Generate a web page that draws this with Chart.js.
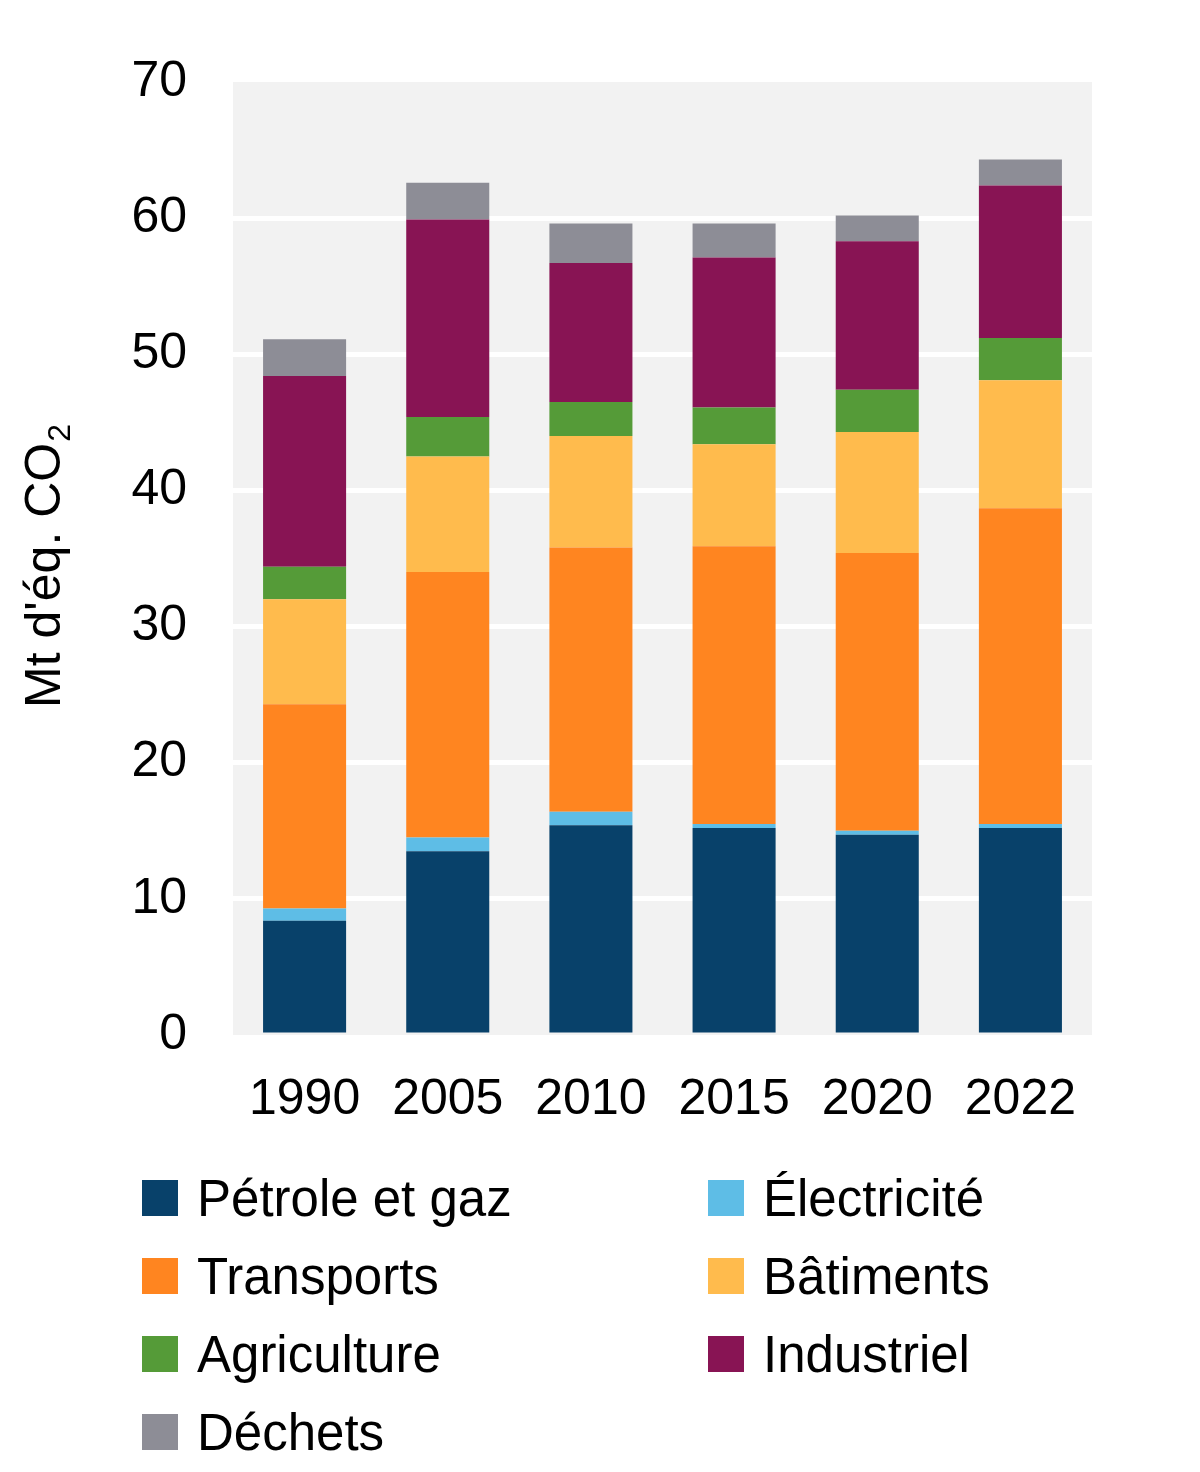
<!DOCTYPE html>
<html lang="fr">
<head>
<meta charset="utf-8">
<title>Émissions de GES par secteur</title>
<script src="https://cdn.jsdelivr.net/npm/chart.js@4"></script>
<style>
  html, body { margin: 0; padding: 0; background: #ffffff; }
  #wrap { width: 1200px; height: 1472px; }
</style>
</head>
<body>
<div id="wrap"><canvas id="emissionsChart" width="1200" height="1472"></canvas></div>
<script>
// Années (catégories)
const years = ['1990', '2005', '2010', '2015', '2020', '2022'];

// Émissions par secteur (Mt d'éq. CO2)
const petroleGaz  = [8.4, 13.5, 15.4, 15.2, 14.7, 15.2];
const electricite = [0.9, 1.0, 1.0, 0.3, 0.3, 0.3];
const transports  = [15.0, 19.5, 19.4, 20.4, 20.4, 23.2];
const batiments   = [7.7, 8.5, 8.2, 7.5, 8.9, 9.4];
const agriculture = [2.4, 2.9, 2.5, 2.7, 3.1, 3.1];
const industriel  = [14.0, 14.5, 10.2, 11.0, 10.9, 11.2];
const dechets     = [2.7, 2.7, 2.9, 2.5, 1.9, 1.9];

// Graduations de l'axe Y
const yMin = 0, yMax = 70, yStep = 10;

const FONT = "'Liberation Sans', Arial, sans-serif";

// Fond gris de la zone de tracé
const plotBackground = {
    id: 'plotBackground',
    beforeDraw(chart) {
        const { ctx, chartArea: a } = chart;
        ctx.save();
        ctx.fillStyle = '#f2f2f2';
        ctx.fillRect(a.left, a.top, a.right - a.left, a.bottom - a.top);
        ctx.restore();
    }
};

// Titre de l'axe Y avec le "2" en indice
const yTitle = {
    id: 'yTitle',
    afterDraw(chart) {
        const { ctx } = chart;
        const main = "Mt d'éq. CO";
        ctx.save();
        ctx.translate(60, 708);
        ctx.rotate(-Math.PI / 2);
        ctx.fillStyle = '#000';
        ctx.textBaseline = 'alphabetic';
        ctx.textAlign = 'left';
        ctx.font = '50px ' + FONT;
        ctx.fillText(main, 0, 0);
        const w = ctx.measureText(main).width;
        ctx.font = '32px ' + FONT;
        ctx.fillText('2', w + 1, 10);
        ctx.restore();
    }
};

// Légende sur deux colonnes, dessinée sous le graphique
const twoColLegend = {
    id: 'twoColLegend',
    afterDraw(chart) {
        const { ctx } = chart;
        const colX = [142, 708];
        const rowY0 = 1198, rowStep = 78, box = 36;
        ctx.save();
        ctx.font = '51px ' + FONT;
        ctx.textBaseline = 'alphabetic';
        ctx.textAlign = 'left';
        chart.data.datasets.forEach((ds, i) => {
            const x = colX[i % 2];
            const cy = rowY0 + Math.floor(i / 2) * rowStep;
            ctx.fillStyle = ds.backgroundColor;
            ctx.fillRect(x, cy - box / 2, box, box);
            ctx.fillStyle = '#000';
            ctx.fillText(ds.label, x + 55, cy + 18);
        });
        ctx.restore();
    }
};

const ctx = document.getElementById('emissionsChart').getContext('2d');
const emissionsChart = new Chart(ctx, {
    type: 'bar',
    data: {
        labels: years,
        datasets: [
            { label: 'Pétrole et gaz', data: petroleGaz,  backgroundColor: '#08416a' },
            { label: 'Électricité',    data: electricite, backgroundColor: '#5ebde6' },
            { label: 'Transports',     data: transports,  backgroundColor: '#ff8520' },
            { label: 'Bâtiments',      data: batiments,   backgroundColor: '#ffbb4d' },
            { label: 'Agriculture',    data: agriculture, backgroundColor: '#559b38' },
            { label: 'Industriel',     data: industriel,  backgroundColor: '#881454' },
            { label: 'Déchets',        data: dechets,     backgroundColor: '#8d8d96' }
        ]
    },
    options: {
        responsive: false,
        animation: false,
        devicePixelRatio: 1,
        layout: { padding: { top: 82, right: 108, left: 0, bottom: 0 } },
        datasets: {
            bar: { barPercentage: 0.58, categoryPercentage: 1.0, borderWidth: 0 }
        },
        plugins: {
            legend: { display: false },
            tooltip: { enabled: false }
        },
        scales: {
            x: {
                stacked: true,
                grid: { display: false },
                border: { display: false },
                ticks: { color: '#000', padding: 27, font: { family: FONT, size: 50 } },
                afterFit(scale) { scale.height = 437; }
            },
            y: {
                stacked: true,
                min: yMin,
                max: yMax,
                border: { display: false },
                grid: {
                    drawTicks: false,
                    lineWidth: 5,
                    color: (c) => (c.tick && (c.tick.value === yMin || c.tick.value === yMax)) ? 'rgba(0,0,0,0)' : '#ffffff'
                },
                ticks: {
                    stepSize: yStep,
                    padding: 46,
                    color: '#000',
                    font: { family: FONT, size: 50 }
                },
                afterFit(scale) { scale.width = 233; }
            }
        }
    },
    plugins: [plotBackground, yTitle, twoColLegend]
});
</script>
</body>
</html>
